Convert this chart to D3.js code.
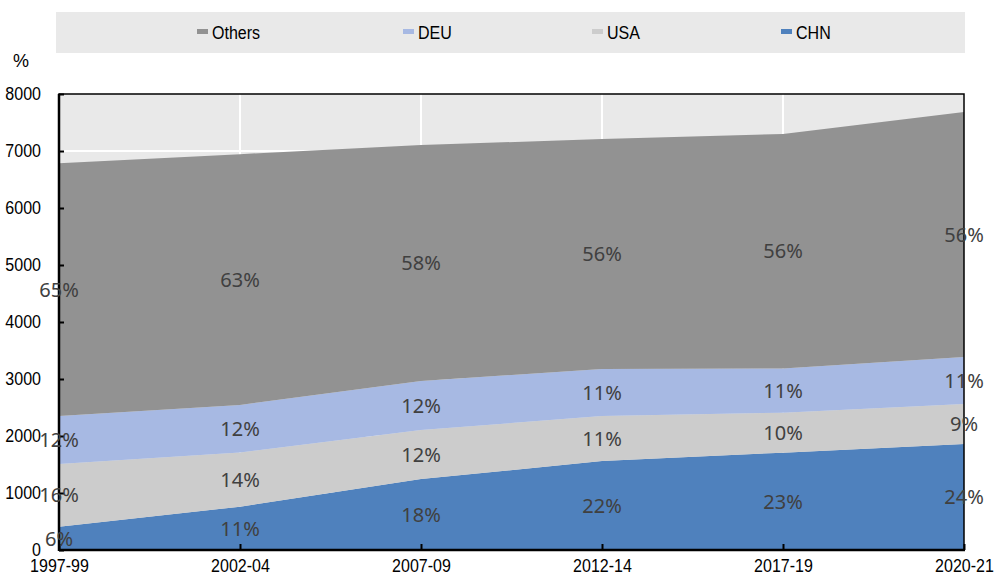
<!DOCTYPE html>
<html>
<head>
<meta charset="utf-8">
<script src="https://cdn.jsdelivr.net/npm/d3@7"></script>
<style>
  html, body { margin: 0; padding: 0; background: #ffffff; }
  svg { display: block; }
  .axis text, .legend text, .unit {
    font-family: "Liberation Sans", Arial, sans-serif;
    font-size: 18px;
    fill: #000000;
  }
  .share {
    font-family: "Noto Sans", "Open Sans", sans-serif;
    font-size: 20px;
    fill: #404040;
  }
</style>
</head>
<body>
<svg id="chart" width="994" height="575"></svg>
<script>
// Periods on the horizontal axis
const periods = ["1997-99", "2002-04", "2007-09", "2012-14", "2017-19", "2020-21"];

// Values per group, stacked from the bottom up
const chn    = [410, 760, 1245, 1560, 1708, 1860];
const usa    = [1100, 950, 860, 790, 701, 700];
const deu    = [840, 835, 860, 825, 774, 826];
const others = [4434, 4400, 4140, 4035, 4117, 4298];

// Vertical axis ticks
const yTicks = [0, 1000, 2000, 3000, 4000, 5000, 6000, 7000, 8000];

// Stack order (bottom to top) and legend order
const stackKeys  = ["CHN", "USA", "DEU", "Others"];
const legendKeys = ["Others", "DEU", "USA", "CHN"];

const colors = {
  CHN: "#4f81bd",
  USA: "#cccccc",
  DEU: "#a7b9e3",
  Others: "#929292"
};

const rows = periods.map((p, i) => ({
  period: p,
  CHN: chn[i],
  USA: usa[i],
  DEU: deu[i],
  Others: others[i]
}));

// Squeeze text horizontally for a condensed look
function narrow(sel, k = 0.89) {
  sel.each(function () {
    const w = this.getComputedTextLength();
    d3.select(this)
      .attr("textLength", w * k)
      .attr("lengthAdjust", "spacingAndGlyphs");
  });
}

const svg = d3.select("#chart");

const plot = { left: 59, right: 964, top: 94, bottom: 550 };

const x = d3.scalePoint().domain(periods).range([plot.left, plot.right]);
const y = d3.scaleLinear().domain([0, 8000]).range([plot.bottom, plot.top]);

// Legend band
svg.append("rect")
  .attr("x", 56).attr("y", 12)
  .attr("width", 909).attr("height", 41)
  .attr("fill", "#e9e9e9");

const legendX = { Others: 197, DEU: 403, USA: 592, CHN: 781 };
const legend = svg.append("g").attr("class", "legend");
legendKeys.forEach(k => {
  legend.append("rect")
    .attr("x", legendX[k]).attr("y", 29)
    .attr("width", 11).attr("height", 5)
    .attr("fill", colors[k]);
  legend.append("text")
    .attr("x", legendX[k] + 15).attr("y", 39)
    .text(k);
});
narrow(legend.selectAll("text"));

// Unit label
svg.append("text").attr("class", "unit")
  .attr("x", 21).attr("y", 67)
  .attr("text-anchor", "middle")
  .text("%");

// Plot background
svg.append("rect")
  .attr("x", plot.left).attr("y", plot.top)
  .attr("width", plot.right - plot.left).attr("height", plot.bottom - plot.top)
  .attr("fill", "#e9e9e9");

// White gridlines
const grid = svg.append("g").attr("stroke", "#ffffff").attr("stroke-width", 2);
yTicks.slice(1, -1).forEach(t => {
  grid.append("line")
    .attr("x1", plot.left).attr("x2", plot.right)
    .attr("y1", y(t)).attr("y2", y(t));
});
periods.slice(1, -1).forEach(p => {
  grid.append("line")
    .attr("x1", x(p)).attr("x2", x(p))
    .attr("y1", plot.top).attr("y2", plot.bottom);
});

// Stacked areas
const stacked = d3.stack().keys(stackKeys)(rows);
const area = d3.area()
  .x(d => x(d.data.period))
  .y0(d => y(d[0]))
  .y1(d => y(d[1]));

svg.append("g")
  .selectAll("path")
  .data(stacked)
  .join("path")
  .attr("fill", d => colors[d.key])
  .attr("d", area);

// Frame
svg.append("rect")
  .attr("x", plot.left).attr("y", plot.top)
  .attr("width", plot.right - plot.left).attr("height", plot.bottom - plot.top)
  .attr("fill", "none")
  .attr("stroke", "#000000")
  .attr("stroke-width", 1.5);

svg.append("line")
  .attr("x1", plot.left).attr("x2", plot.left)
  .attr("y1", plot.top).attr("y2", plot.bottom + 1)
  .attr("stroke", "#000").attr("stroke-width", 2.5);
svg.append("line")
  .attr("x1", plot.left).attr("x2", plot.right + 1)
  .attr("y1", plot.bottom).attr("y2", plot.bottom)
  .attr("stroke", "#000").attr("stroke-width", 2.5);

// Axes
const yAxis = d3.axisLeft(y).tickValues(yTicks).tickSize(-5).tickPadding(18).tickFormat(d3.format("d"));
const gy = svg.append("g").attr("class", "axis")
  .attr("transform", `translate(${plot.left},0)`)
  .call(yAxis);
gy.select(".domain").remove();
gy.selectAll(".tick line").attr("stroke", "#000").attr("stroke-width", 2);
narrow(gy.selectAll(".tick text"));

const xAxis = d3.axisBottom(x).tickSize(-6).tickPadding(9);
const gx = svg.append("g").attr("class", "axis")
  .attr("transform", `translate(0,${plot.bottom})`)
  .call(xAxis);
gx.select(".domain").remove();
gx.selectAll(".tick line").attr("stroke", "#000").attr("stroke-width", 2);
gx.selectAll(".tick text").attr("dy", "0.71em");
narrow(gx.selectAll(".tick text"));

// Share labels, centred in each band
const labels = svg.append("g");
stacked.forEach(series => {
  series.forEach(d => {
    const total = d.data.CHN + d.data.USA + d.data.DEU + d.data.Others;
    const share = Math.round(100 * (d[1] - d[0]) / total);
    labels.append("text")
      .attr("class", "share")
      .attr("x", x(d.data.period))
      .attr("y", (y(d[0]) + y(d[1])) / 2)
      .attr("dy", "0.36em")
      .attr("text-anchor", "middle")
      .text(share + "%");
  });
});
</script>
</body>
</html>
